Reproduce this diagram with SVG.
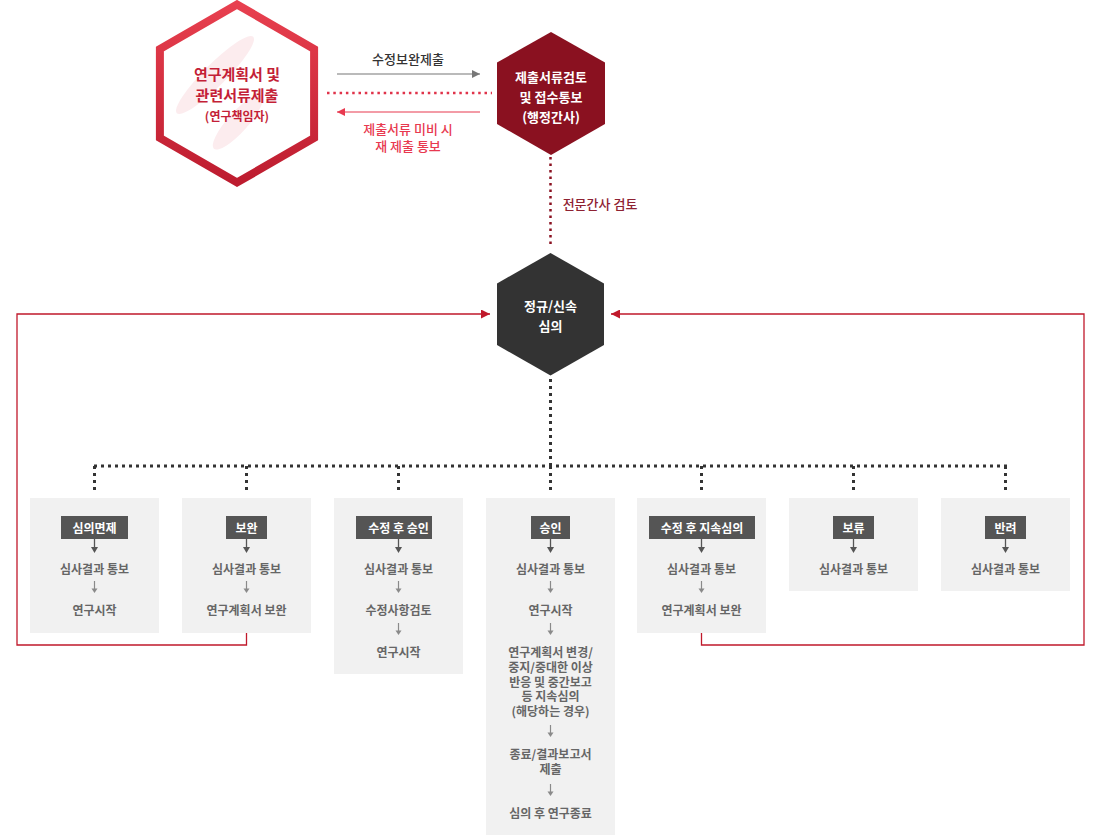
<svg xmlns="http://www.w3.org/2000/svg" xmlns:xlink="http://www.w3.org/1999/xlink" width="1100" height="835" viewBox="0 0 1100 835">
  <style>
    text { font-family: "Noto Sans CJK KR", "Noto Sans", sans-serif; text-anchor: middle; dominant-baseline: central; }
    .hexTitle { font-size: 15px; font-weight: 700; fill: #c41f37; }
    .hexSub { font-size: 12px; font-weight: 700; fill: #c41f37; }
    .hexWhite { font-size: 13px; font-weight: 700; fill: #ffffff; }
    .flowTxt { font-size: 13px; font-weight: 500; }
    .panel { fill: #f1f1f1; }
    .tag { fill: #555555; }
    .tagTxt { font-size: 12px; font-weight: 700; fill: #ffffff; }
    .item { font-size: 12px; font-weight: 700; fill: #666666; }
    .dotDark { fill: none; stroke: #333333; stroke-width: 3; stroke-dasharray: 3 4; }
    .loop { fill: none; stroke: #c0192b; stroke-width: 1.3; }
  </style>
  <defs>
    <linearGradient id="hexRed" x1="0" y1="0" x2="0" y2="1">
      <stop offset="0" stop-color="#e8404f"/>
      <stop offset="1" stop-color="#bd1c2f"/>
    </linearGradient>
    <marker id="headGray" markerUnits="userSpaceOnUse" markerWidth="8" markerHeight="8" refX="8" refY="4" orient="auto">
      <path d="M0,0 L8,4 L0,8 z" fill="#777777"/>
    </marker>
    <marker id="headRed" markerUnits="userSpaceOnUse" markerWidth="8" markerHeight="8" refX="8" refY="4" orient="auto">
      <path d="M0,0 L8,4 L0,8 z" fill="#e8394f"/>
    </marker>
    <marker id="headLoop" markerUnits="userSpaceOnUse" markerWidth="9" markerHeight="9" refX="9" refY="4.5" orient="auto">
      <path d="M0,0 L9,4.5 L0,9 z" fill="#c0192b"/>
    </marker>
    <!-- small down arrows inside the result panels -->
    <g id="arrDark">
      <line x1="0" y1="0" x2="0" y2="9" stroke="#555555" stroke-width="1.3"/>
      <path d="M-3.5,8 L3.5,8 L0,14 z" fill="#555555"/>
    </g>
    <g id="arrLight">
      <line x1="0" y1="0" x2="0" y2="8" stroke="#8a8a8a" stroke-width="1.2"/>
      <path d="M-3,7.5 L3,7.5 L0,12 z" fill="#8a8a8a"/>
    </g>
  </defs>

  <rect width="1100" height="835" fill="#ffffff"/>

  <!-- connectors -->
  <g id="connectors">
    <line x1="337" y1="74" x2="480" y2="74" stroke="#777777" stroke-width="1.2" marker-end="url(#headGray)"/>
    <text class="flowTxt" x="408" y="58" fill="#333333">수정보완제출</text>
    <line x1="327" y1="93" x2="492" y2="93" stroke="#e0334a" stroke-width="2.5" stroke-dasharray="2.5 3.8"/>
    <line x1="480" y1="112" x2="337" y2="112" stroke="#e8394f" stroke-width="1.2" marker-end="url(#headRed)"/>
    <text class="flowTxt" x="408" y="128" fill="#e8394f">제출서류 미비 시</text>
    <text class="flowTxt" x="408" y="145" fill="#e8394f">재 제출 통보</text>

    <line x1="550.5" y1="157" x2="550.5" y2="248" stroke="#8a1120" stroke-width="2.5" stroke-dasharray="2.5 4"/>
    <text class="flowTxt" x="600" y="203" fill="#8e2232">전문간사 검토</text>

    <line class="dotDark" x1="550.5" y1="379" x2="550.5" y2="466"/>
    <line class="dotDark" x1="94" y1="466" x2="1007" y2="466"/>
    <line class="dotDark" x1="94.5" y1="466" x2="94.5" y2="490"/>
    <line class="dotDark" x1="246.5" y1="466" x2="246.5" y2="490"/>
    <line class="dotDark" x1="398.5" y1="466" x2="398.5" y2="490"/>
    <line class="dotDark" x1="550.5" y1="466" x2="550.5" y2="490"/>
    <line class="dotDark" x1="701.5" y1="466" x2="701.5" y2="490"/>
    <line class="dotDark" x1="853.5" y1="466" x2="853.5" y2="490"/>
    <line class="dotDark" x1="1005.5" y1="466" x2="1005.5" y2="490"/>

    <path class="loop" d="M246.5,625 V645 H17 V314 H490" marker-end="url(#headLoop)"/>
    <path class="loop" d="M701.5,625 V645 H1084 V314 H611" marker-end="url(#headLoop)"/>
    <circle cx="246.5" cy="625" r="4" fill="#c0192b"/>
    <circle cx="701.5" cy="625" r="4" fill="#c0192b"/>
  </g>

  <!-- researcher submission -->
  <g id="node-submit">
    <path d="M237,4.5 L314.1,49 L314.1,138 L237,182.5 L159.9,138 L159.9,49 Z" fill="#ffffff" stroke="url(#hexRed)" stroke-width="8" stroke-linejoin="miter"/>
    <!-- faint chromosome watermark -->
    <g fill="#fbe4e8" opacity="0.7">
      <ellipse cx="215" cy="75" rx="54" ry="11" transform="rotate(-45 215 75)"/>
      <ellipse cx="238" cy="122" rx="36" ry="10" transform="rotate(-48 238 122)"/>
    </g>
    <text class="hexTitle" x="237" y="73">연구계획서 및</text>
    <text class="hexTitle" x="237" y="94">관련서류제출</text>
    <text class="hexSub" x="237" y="115">(연구책임자)</text>
  </g>

  <!-- administrative review -->
  <g id="node-admin">
    <path d="M551,32 L605,62.5 L605,124 L551,155 L497,124 L497,62.5 Z" fill="#8a1120"/>
    <text class="hexWhite" x="551" y="76">제출서류검토</text>
    <text class="hexWhite" x="551" y="96">및 접수통보</text>
    <text class="hexWhite" x="551" y="116">(행정간사)</text>
  </g>

  <!-- review meeting -->
  <g id="node-review">
    <path d="M550.5,253 L604,283.5 L604,345 L550.5,375.5 L497,345 L497,283.5 Z" fill="#333333"/>
    <text class="hexWhite" x="550.5" y="305">정규/신속</text>
    <text class="hexWhite" x="550.5" y="325">심의</text>
  </g>

  <!-- outcomes -->
  <g id="node-exempt">
    <rect class="panel" x="30" y="498" width="129" height="135"/>
    <rect class="tag" x="61" y="516" width="67" height="23"/>
    <text class="tagTxt" x="94.5" y="527.5">심의면제</text>
    <use xlink:href="#arrDark" x="94.5" y="539"/>
    <text class="item" x="94.5" y="568">심사결과 통보</text>
    <use xlink:href="#arrLight" x="94.5" y="581"/>
    <text class="item" x="94.5" y="609">연구시작</text>
  </g>

  <g id="node-supplement">
    <rect class="panel" x="182" y="498" width="129" height="135"/>
    <rect class="tag" x="226" y="516" width="41" height="23"/>
    <text class="tagTxt" x="246.5" y="527.5">보완</text>
    <use xlink:href="#arrDark" x="246.5" y="539"/>
    <text class="item" x="246.5" y="568">심사결과 통보</text>
    <use xlink:href="#arrLight" x="246.5" y="581"/>
    <text class="item" x="246.5" y="609">연구계획서 보완</text>
  </g>

  <g id="node-approve-revised">
    <rect class="panel" x="334" y="498" width="129" height="176"/>
    <rect class="tag" x="356" y="516" width="76" height="23"/>
    <text class="tagTxt" x="398.5" y="527.5">수정 후 승인</text>
    <use xlink:href="#arrDark" x="398.5" y="539"/>
    <text class="item" x="398.5" y="568">심사결과 통보</text>
    <use xlink:href="#arrLight" x="398.5" y="581"/>
    <text class="item" x="398.5" y="609">수정사항검토</text>
    <use xlink:href="#arrLight" x="398.5" y="623"/>
    <text class="item" x="398.5" y="651">연구시작</text>
  </g>

  <g id="node-approve">
    <rect class="panel" x="486" y="498" width="129" height="337"/>
    <rect class="tag" x="531" y="516" width="39" height="23"/>
    <text class="tagTxt" x="550.5" y="527.5">승인</text>
    <use xlink:href="#arrDark" x="550.5" y="539"/>
    <text class="item" x="550.5" y="568">심사결과 통보</text>
    <use xlink:href="#arrLight" x="550.5" y="581"/>
    <text class="item" x="550.5" y="609">연구시작</text>
    <use xlink:href="#arrLight" x="550.5" y="623"/>
    <text class="item" x="550.5" y="651.5">연구계획서 변경/<tspan x="550.5" dy="14.6">중지/중대한 이상</tspan><tspan x="550.5" dy="14.6">반응 및 중간보고</tspan><tspan x="550.5" dy="14.6">등 지속심의</tspan><tspan x="550.5" dy="14.6">(해당하는 경우)</tspan></text>
    <use xlink:href="#arrLight" x="550.5" y="725"/>
    <text class="item" x="550.5" y="753">종료/결과보고서<tspan x="550.5" dy="15">제출</tspan></text>
    <use xlink:href="#arrLight" x="550.5" y="784"/>
    <text class="item" x="550.5" y="812">심의 후 연구종료</text>
  </g>

  <g id="node-continue-revised">
    <rect class="panel" x="637" y="498" width="129" height="135"/>
    <rect class="tag" x="649" y="516" width="106" height="23"/>
    <text class="tagTxt" x="702" y="527.5">수정 후 지속심의</text>
    <use xlink:href="#arrDark" x="701.5" y="539"/>
    <text class="item" x="701.5" y="568">심사결과 통보</text>
    <use xlink:href="#arrLight" x="701.5" y="581"/>
    <text class="item" x="701.5" y="609">연구계획서 보완</text>
  </g>

  <g id="node-hold">
    <rect class="panel" x="789" y="498" width="129" height="93"/>
    <rect class="tag" x="833" y="516" width="41" height="23"/>
    <text class="tagTxt" x="853.5" y="527.5">보류</text>
    <use xlink:href="#arrDark" x="853.5" y="539"/>
    <text class="item" x="853.5" y="568">심사결과 통보</text>
  </g>

  <g id="node-reject">
    <rect class="panel" x="941" y="498" width="129" height="93"/>
    <rect class="tag" x="985" y="516" width="41" height="23"/>
    <text class="tagTxt" x="1005.5" y="527.5">반려</text>
    <use xlink:href="#arrDark" x="1005.5" y="539"/>
    <text class="item" x="1005.5" y="568">심사결과 통보</text>
  </g>
</svg>
